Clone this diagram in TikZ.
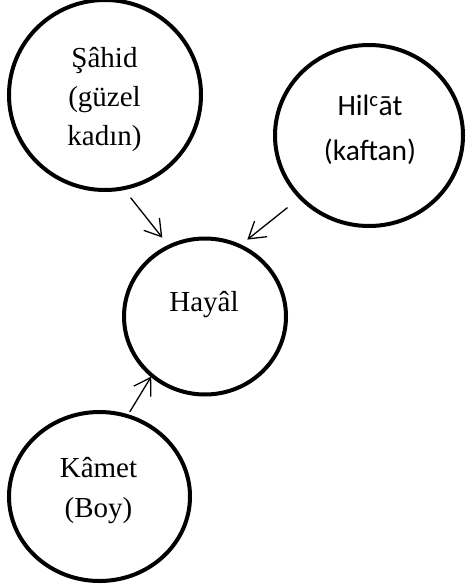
\documentclass[tikz,border=0pt]{standalone}
\usepackage{fontspec}
\setmainfont{Liberation Serif}
\newfontfamily\calibrifont{Carlito}
\usetikzlibrary{arrows.meta,shapes.geometric}
\begin{document}
\begin{tikzpicture}[x=1pt,y=-1pt,
  bubble/.style={draw, ellipse, line width=4pt, inner sep=0pt, outer sep=0pt},
  % base anchor of a multi-line text sits on its last line
  wording/.style={align=center, anchor=base, inner sep=0pt},
  serif/.style={font=\fontsize{29}{39}\selectfont},
  sans/.style={font=\calibrifont\fontsize{29.5}{45}\selectfont},
  link/.style={line width=1.3pt, -{Straight Barb[length=16pt,width=20pt]}},
]
\useasboundingbox (0,0) rectangle (467,586);

% the four concept bubbles
\node[bubble, minimum width=192pt, minimum height=190pt] (sahid) at (105,95) {};
\node[bubble, minimum width=188pt, minimum height=181pt] (hilat) at (369,135.5) {};
\node[bubble, minimum width=162pt, minimum height=156pt] (hayal) at (205,316.5) {};
\node[bubble, minimum width=181pt, minimum height=169pt] (kamet) at (99.5,496.5) {};

% their texts
\node[wording, serif] (sahid-text) at (104.5,145) {Şâhid\\(güzel\\kadın)};
\node[wording, sans] (hilat-text) at (370,160.5) {Hil\textsuperscript{c}āt\\(kaftan)};
\node[wording, serif] (hayal-text) at (204,311) {Hayâl};
\node[wording, serif, font=\fontsize{29}{40}\selectfont] (kamet-text) at (98.5,517) {Kâmet\\(Boy)};

% arrows into the centre
\draw[link, shorten <=12pt, shorten >=11.3pt] (sahid.-79) -- (hayal.117);
\draw[link, shorten <=16.5pt, shorten >=10.1pt] (hilat.-138) -- (hayal.64);
\draw[link, shorten <=4.9pt, shorten >=1.4pt] (kamet.71) -- (hayal.-132);
\end{tikzpicture}
\end{document}
